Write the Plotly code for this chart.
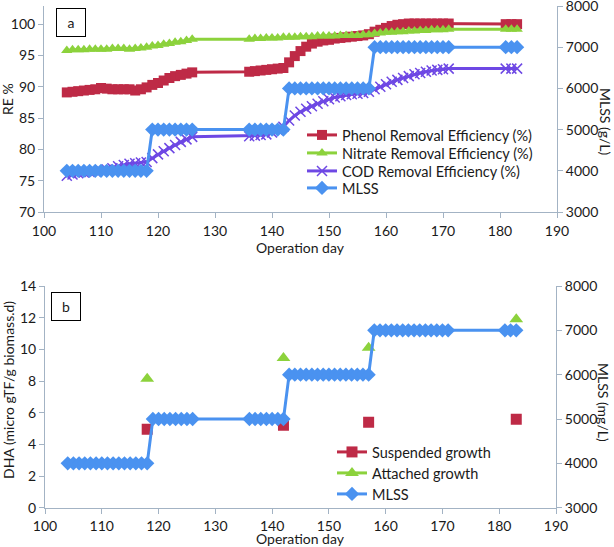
import plotly.graph_objects as go

W, H = 614, 547

# ---------------- data ----------------
days = list(range(104, 127)) + list(range(136, 172)) + [181, 182, 183]

phenol_re = [89.1, 89.2, 89.3, 89.4, 89.5, 89.6, 89.8, 89.7, 89.6, 89.6, 89.6, 89.6, 89.4, 89.6, 89.9,
             90.3, 90.6, 91.0, 91.4, 91.7, 91.9, 92.1, 92.3,
             92.4, 92.5, 92.6, 92.7, 92.8, 92.9, 93.0, 93.9, 94.9, 95.7, 96.4, 96.9, 97.2, 97.4, 97.5,
             97.7, 97.8, 97.9, 98.0, 98.1, 98.2, 98.4, 98.8, 99.1, 99.4, 99.7, 99.9, 100.0, 100.1,
             100.1, 100.1, 100.1, 100.1, 100.1, 100.1, 100.1,
             100.0, 100.0, 100.0]

nitrate_re = [95.8, 95.9, 95.9, 95.9, 96.0, 96.0, 96.0, 96.0, 96.1, 96.1, 96.1, 96.0, 96.1, 96.2, 96.3,
              96.5, 96.6, 96.8, 96.9, 97.1, 97.2, 97.4, 97.6,
              97.6, 97.7, 97.7, 97.8, 97.8, 97.8, 97.9, 97.9, 97.9, 98.0, 98.0, 98.0, 98.1, 98.1, 98.1,
              98.1, 98.2, 98.2, 98.2, 98.2, 98.3, 98.3, 98.5, 98.6, 98.7, 98.7, 98.8, 98.8, 98.9,
              98.9, 99.0, 99.0, 99.1, 99.1, 99.1, 99.2,
              99.2, 99.2, 99.2]

cod_re = [75.8, 76.0, 76.2, 76.3, 76.4, 76.5, 76.6, 76.8, 77.0, 77.3, 77.5, 77.7, 77.8, 77.9, 78.0,
          78.6, 79.2, 79.7, 80.2, 80.7, 81.2, 81.6, 82.0,
          82.1, 82.2, 82.3, 82.4, 82.7, 83.1, 83.6, 84.6, 85.4, 86.0, 86.5, 86.9, 87.3, 87.7, 88.0,
          88.3, 88.5, 88.7, 88.8, 88.9, 89.0, 89.2, 89.6, 90.0, 90.4, 90.8, 91.1, 91.4, 91.7,
          92.0, 92.2, 92.4, 92.6, 92.7, 92.8, 92.9,
          92.9, 92.9, 92.9]

mlss = [4000] * 15 + [5000] * 8 + [5000] * 7 + [6000] * 15 + [7000] * 14 + [7000] * 3

dha_days = [118, 142, 157, 183]
dha_suspended = [4.95, 5.2, 5.4, 5.58]
dha_attached = [8.15, 9.45, 10.1, 11.9]

# ---------------- styles ----------------
RED = "#BE2A46"
GREEN = "#8CD23C"
PURPLE = "#6E48E4"
BLUE = "#4A92F0"
AXIS = "#A3B3C4"
FONT = "Lato"
TXT = "#1a1a1a"


def px_x(p):
    return p / W


def px_y(p):
    return 1 - p / H


def isolated(xs, ys):
    """Separate points with gaps so that a lines+markers trace draws no connecting lines."""
    ox, oy = [], []
    for a, b in zip(xs, ys):
        ox += [a, None]
        oy += [b, None]
    return ox, oy


fig = go.Figure()

# top panel
fig.add_trace(go.Scatter(x=days, y=phenol_re, name="Phenol Removal Efficiency (%)", mode="lines+markers",
                         line=dict(color=RED, width=3), marker=dict(symbol="square", size=10, color=RED),
                         xaxis="x", yaxis="y", legend="legend"))
fig.add_trace(go.Scatter(x=days, y=nitrate_re, name="Nitrate Removal Efficiency (%)", mode="lines+markers",
                         line=dict(color=GREEN, width=3), marker=dict(symbol="triangle-up", size=10, color=GREEN),
                         xaxis="x", yaxis="y", legend="legend2"))
fig.add_trace(go.Scatter(x=days, y=cod_re, name="COD Removal Efficiency (%)", mode="lines+markers",
                         line=dict(color=PURPLE, width=3),
                         marker=dict(symbol="x-thin", size=10, color=PURPLE, line=dict(color=PURPLE, width=1.5)),
                         xaxis="x", yaxis="y", legend="legend3"))
fig.add_trace(go.Scatter(x=days, y=mlss, name="MLSS", mode="lines+markers",
                         line=dict(color=BLUE, width=3), marker=dict(symbol="diamond", size=11, color=BLUE),
                         xaxis="x", yaxis="y2", legend="legend4"))

# bottom panel
sx, sy = isolated(dha_days, dha_suspended)
ax_, ay_ = isolated(dha_days, dha_attached)
fig.add_trace(go.Scatter(x=sx, y=sy, name="Suspended growth", mode="lines+markers", connectgaps=False,
                         line=dict(color=RED, width=3), marker=dict(symbol="square", size=11, color=RED),
                         xaxis="x2", yaxis="y3", legend="legend5"))
fig.add_trace(go.Scatter(x=ax_, y=ay_, name="Attached growth", mode="lines+markers", connectgaps=False,
                         line=dict(color=GREEN, width=3), marker=dict(symbol="triangle-up", size=12, color=GREEN),
                         xaxis="x2", yaxis="y3", legend="legend6"))
fig.add_trace(go.Scatter(x=days, y=mlss, name="MLSS", mode="lines+markers",
                         line=dict(color=BLUE, width=3), marker=dict(symbol="diamond", size=11, color=BLUE),
                         xaxis="x2", yaxis="y4", legend="legend7"))

axis_common = dict(showline=True, linecolor=AXIS, linewidth=1, ticks="outside", ticklen=5, tickcolor=AXIS,
                   showgrid=False, zeroline=False, automargin=False, ticklabeloverflow="allow",
                   tickfont=dict(family=FONT, size=14, color=TXT))

top_dom = [px_y(212), px_y(6)]
bot_dom = [px_y(507.7), px_y(286)]


def leg(xp, yp):
    return dict(x=px_x(xp), y=px_y(yp), xanchor="left", yanchor="middle", bgcolor="rgba(0,0,0,0)",
                font=dict(family=FONT, size=14.5, color=TXT), itemwidth=30, borderwidth=0)


fig.update_layout(
    width=W, height=H, template="none",
    paper_bgcolor="white", plot_bgcolor="rgba(0,0,0,0)",
    margin=dict(l=0, r=0, t=0, b=0, autoexpand=False),
    font=dict(family=FONT, size=14, color=TXT),
    xaxis=dict(domain=[px_x(44), px_x(557)], anchor="y", range=[100, 190], dtick=10,
               ticklabelstandoff=1, **axis_common),
    yaxis=dict(domain=top_dom, anchor="x", range=[70, 102.9], tickvals=[70, 75, 80, 85, 90, 95, 100],
               **axis_common),
    yaxis2=dict(overlaying="y", side="right", anchor="x", range=[3000, 8000], dtick=1000, **axis_common),
    xaxis2=dict(domain=[px_x(45), px_x(556)], anchor="y3", range=[100, 190], dtick=10,
                ticklabelstandoff=0, **axis_common),
    yaxis3=dict(domain=bot_dom, anchor="x2", range=[0, 14], dtick=2, **axis_common),
    yaxis4=dict(overlaying="y3", side="right", anchor="x2", range=[3000, 8000], dtick=1000, **axis_common),
    legend=leg(302, 135), legend2=leg(302, 153), legend3=leg(302, 171), legend4=leg(302, 188),
    legend5=leg(332, 452), legend6=leg(332, 473), legend7=leg(332, 494),
    showlegend=True,
)

annos = [
    dict(text="Operation day", x=px_x(300), y=px_y(247)),
    dict(text="Operation day", x=px_x(300), y=px_y(538)),
    dict(text="RE %", x=px_x(8), y=px_y(99), textangle=-90),
    dict(text="DHA (micro gTF/g biomass.d)", x=px_x(8), y=px_y(390), textangle=-90),
    dict(text="MLSS (g/L)", x=px_x(606), y=px_y(121), textangle=90),
    dict(text="MLSS (mg/L)", x=px_x(604), y=px_y(402), textangle=90),
]
for a in annos:
    fig.add_annotation(xref="paper", yref="paper", showarrow=False, xanchor="center", yanchor="middle",
                       font=dict(family=FONT, size=14, color=TXT), **a)

for lbl, cx, cy in [("a", 71, 22.5), ("b", 66, 306)]:
    fig.add_annotation(text=lbl, xref="paper", yref="paper", x=px_x(cx), y=px_y(cy), showarrow=False,
                       xanchor="center", yanchor="middle", width=24, height=23, borderpad=2,
                       bordercolor="#000000", borderwidth=1, bgcolor="white",
                       font=dict(family=FONT, size=14, color=TXT))

fig.write_html("out.html", config={"displayModeBar": False},
               post_script="document.body.style.margin='0px';document.body.style.padding='0px';")
